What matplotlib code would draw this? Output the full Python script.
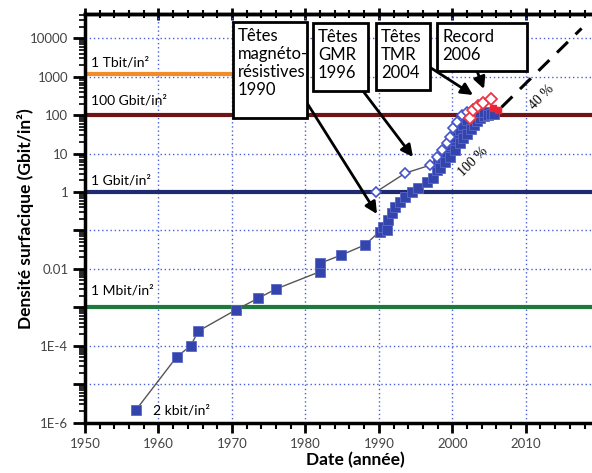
import numpy as np
import matplotlib.pyplot as plt
from matplotlib.patches import Rectangle
from matplotlib.ticker import FixedLocator, FuncFormatter, LogLocator, NullFormatter

plt.rcParams['font.family'] = ['Lato', 'DejaVu Sans']

# disques durs commerciaux (carres pleins bleus)
prod_year = [1956.9, 1962.5, 1964.4, 1965.4, 1970.5, 1973.5, 1976.0, 1982.0, 1982.0,
             1984.9, 1988.1, 1990.1, 1990.6, 1991.1, 1991.3, 1991.8, 1992.2, 1992.9,
             1993.6, 1994.5, 1995.3, 1996.6, 1997.4, 1997.9, 1998.1, 1998.3, 1998.3,
             1999.0, 1999.0, 1999.7, 1999.7, 2000.4, 2000.4, 2001.1, 2001.1, 2001.5,
             2001.5, 2002.0, 2002.0, 2002.5, 2002.5, 2002.9, 2002.9, 2003.4, 2003.4,
             2003.8, 2003.8, 2004.3, 2004.3, 2004.8, 2005.3, 2005.7]
prod_dens = [2.1e-6, 5.2e-5, 1.0e-4, 2.4e-4, 8.5e-4, 1.7e-3, 3.0e-3, 0.0085, 0.014,
             0.023, 0.042, 0.093, 0.12, 0.10, 0.19, 0.28, 0.41, 0.55,
             0.74, 1.0, 1.27, 1.8, 2.3, 3.7, 6.0, 4.1, 7.6,
             6.0, 11, 8.3, 17, 12.5, 27, 18.5, 41, 25,
             55, 33, 74, 44, 95, 55, 110, 70, 120,
             83, 120, 95, 118, 100, 105, 105]
n_linked = 12

# demonstrations en laboratoire (losanges bleus)
lab_year = [1989.6, 1993.6, 1997.0, 1997.9, 1998.6, 1999.3, 1999.7, 2000.1, 2000.6, 2001.3, 2002.0]
lab_dens = [1.0, 3.1, 5.0, 8.1, 12.4, 19, 27, 46, 66, 100, 120]

# tetes TMR (losanges rouges) et record 2006 (carres rouges)
tmr_year = [2002.4, 2002.8, 2003.5, 2004.2, 2005.3]
tmr_dens = [84, 135, 172, 206, 265]
rec_year = [2005.6, 2006.2]
rec_dens = [150, 135]

# tendance 40 %/an
trend_year = [2006.7, 2017.6]
trend_dens = [160, 18000]

# niveaux de reference
level_vals = [1150, 100, 1, 1e-3]
level_end = [1970.1, 2020, 2020, 2020]
level_colors = ['#f28c28', '#6e1414', '#1f2a70', '#1e7a3c']
level_labels = ['1 Tbit/in²', '100 Gbit/in²', '1 Gbit/in²', '1 Mbit/in²']
level_text_y = [2400, 233, 2.05, 2.7e-3]

ytick_labels = {1e4: '10000', 1e3: '1000', 1e2: '100', 1e1: '10', 1.0: '1',
                1e-2: '0.01', 1e-4: '1E-4', 1e-6: '1E-6'}

W, H = 592, 473
fig = plt.figure(figsize=(W / 100, H / 100), dpi=100)
ax = fig.add_axes([85 / W, 50.3 / H, 514.2 / W, 408.7 / H])
ax.set_yscale('log')
ax.set_xlim(1950, 2020)
ax.set_ylim(1e-6, 10 ** 4.63)

# grille
ax.grid(True, which='major', color='#4a5de0', ls=(0, (1, 2)), lw=1, zorder=0)

for val, xe, col in zip(level_vals, level_end, level_colors):
    ax.plot([1950, xe], [val, val], color=col, lw=3, zorder=2, solid_capstyle='butt')
for lab, ty in zip(level_labels, level_text_y):
    ax.text(1950.8, ty, lab, fontsize=10, va='center', ha='left', zorder=3)
ax.text(1959.2, 2.1e-6, '2 kbit/in²', fontsize=10, va='center', ha='left', zorder=3)

# series
ax.plot(prod_year[:n_linked], prod_dens[:n_linked], color='#555555', lw=1, zorder=3)
ax.plot(lab_year, lab_dens, color='#555555', lw=1, zorder=3)
ax.plot(prod_year, prod_dens, 's', ms=7.5, mfc='#3444ad', mec='#5a68c8', mew=0.6,
        ls='none', zorder=4)
ax.plot(lab_year, lab_dens, 'D', ms=5.5, mfc='white', mec='#4455cc', mew=1.2,
        ls='none', zorder=5)
ax.plot(rec_year, rec_dens, 's', ms=5, mfc='#ee2233', mec='#ee2233', ls='none', zorder=5)
ax.plot(tmr_year, tmr_dens, 'D', ms=6, mfc='white', mec='#ee3344', mew=1.3,
        ls='none', zorder=6)
ax.plot(trend_year, trend_dens, color='black', lw=2.2, ls=(0, (5, 3.5)), zorder=4)

ax.text(2002.8, 6.0, '100 %', fontsize=10, family='Liberation Serif', rotation=45,
        ha='center', va='center', zorder=6)
ax.text(2012.2, 300, '40 %', fontsize=10, family='Liberation Serif', rotation=45,
        ha='center', va='center', zorder=6)

# axes
for sp in ax.spines.values():
    sp.set_linewidth(2.5)
ax.spines['right'].set_visible(False)
ax.set_xticks(np.arange(1950, 2011, 10))
ax.xaxis.set_minor_locator(FixedLocator(np.arange(1950, 2021, 2)))
ax.tick_params(axis='x', which='major', direction='out', length=7, width=2,
               labelsize=9.5, labelcolor='#444444', pad=4)
ax.tick_params(axis='x', which='minor', direction='out', length=4, width=1.5)
ax.yaxis.set_major_locator(LogLocator(base=10, numticks=20))
ax.yaxis.set_minor_locator(LogLocator(base=10, subs=np.arange(2, 10), numticks=20))
ax.yaxis.set_minor_formatter(NullFormatter())
ax.yaxis.set_major_formatter(FuncFormatter(
    lambda v, p: next((t for k, t in ytick_labels.items() if abs(np.log10(v) - np.log10(k)) < 1e-6), '')))
ax.tick_params(axis='y', which='major', direction='out', length=9, width=2,
               labelsize=9.5, labelcolor='#444444', pad=3)
ax.tick_params(axis='y', which='minor', direction='out', length=4, width=1.2)

top = ax.secondary_xaxis('top')
top.set_xticks(np.arange(1950, 2011, 10))
top.xaxis.set_minor_locator(FixedLocator(np.arange(1950, 2021, 2)))
top.tick_params(axis='x', which='major', direction='inout', length=9, width=2, labeltop=False)
top.tick_params(axis='x', which='minor', direction='inout', length=6, width=1.5)
top.spines['top'].set_linewidth(2.5)

ax.set_xlabel('Date (année)', fontsize=12.5, fontweight='bold')
ax.xaxis.set_label_coords(0.525, -0.072)
ax.set_ylabel('Densité surfacique (Gbit/in²)', fontsize=12.5, fontweight='bold')
ax.yaxis.set_label_coords(-0.10, 0.5)

# boites d'annotation (en pixels de la figure)
boxes = [
    ((233, 22, 307, 118), 'Têtes\nmagnéto-\nrésistives\n1990'),
    ((313, 23, 368, 91), 'Têtes\nGMR\n1996'),
    ((376, 23, 430, 90), 'Têtes\nTMR\n2004'),
    ((437, 23, 527, 71), 'Record\n2006'),
]
for (x0, y0, x1, y1), txt in boxes:
    fig.add_artist(Rectangle((x0 / W, 1 - y1 / H), (x1 - x0) / W, (y1 - y0) / H,
                             transform=fig.transFigure, fc='white', ec='black', lw=2, zorder=8))
    fig.text((x0 + 5) / W, 1 - (y0 + 6) / H, txt, fontsize=12, va='top', ha='left',
             linespacing=1.15, zorder=9)

arrows = [((307, 103), (377, 214)), ((363, 91), (413, 157)),
          ((431, 68), (473, 95)), ((477, 71), (484, 89))]
for (xs, ys), (xt, yt) in arrows:
    ax.annotate('', xy=(xt, H - yt), xycoords='figure pixels',
                xytext=(xs, H - ys), textcoords='figure pixels',
                arrowprops=dict(arrowstyle='-|>,head_length=0.7,head_width=0.35', lw=2,
                                color='black', shrinkA=0, shrinkB=0), zorder=10)

fig.savefig('out.png', dpi=100)
